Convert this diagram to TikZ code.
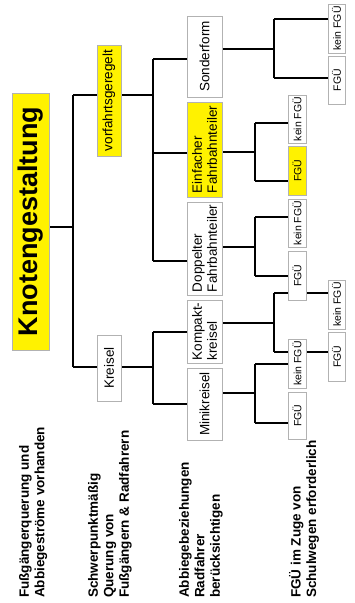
\documentclass[tikz,border=0pt]{standalone}
\usepackage{fontspec}
\setmainfont{Liberation Sans}
\usetikzlibrary{backgrounds}

\tikzset{
	box/.style={draw=gray!60, fill=white, line width=0.8pt, rotate=90, inner sep=0pt,
		align=left, font=\fontsize{13.5}{15}\selectfont},
	hilite/.style={fill=yellow},
	leaf/.style={box, font=\fontsize{10.5}{12}\selectfont},
	note/.style={rotate=90, anchor=north west, inner sep=0pt, align=left,
		font=\fontsize{13.5}{15.5}\selectfont\bfseries},
	link/.style={line width=1.5pt}
}

\begin{document}
\begin{tikzpicture}[x=1pt, y=-1pt]

	\useasboundingbox (0,0) rectangle (354,603);

	% Root
	\node[box, hilite, minimum width=257, minimum height=37,
		font=\fontsize{27}{30}\selectfont\bfseries] (root) at (30.5,221.5) {Knotengestaltung};

	% Level 1
	\node[box, hilite, minimum width=111, minimum height=24] (vorfahrt) at (109,100.5) {vorfahrtsgeregelt};
	\node[box, minimum width=66, minimum height=24] (kreisel) at (109,368) {Kreisel};

	% Level 2
	\node[box, minimum width=81, minimum height=35] (sonder) at (204.5,56.5) {Sonderform};
	\node[box, hilite, minimum width=95, minimum height=35] (einfach) at (204.5,149.5) {Einfacher\\Fahrbahnteiler};
	\node[box, minimum width=93, minimum height=35] (doppelt) at (204.5,248.5) {Doppelter\\Fahrbahnteiler};
	\node[box, minimum width=63, minimum height=35] (kompakt) at (204.5,331.5) {Kompakt-\\kreisel};
	\node[box, minimum width=72, minimum height=35] (mini) at (204.5,404) {Minikreisel};

	% Level 3
	\node[leaf, minimum width=48, minimum height=18] (einkein) at (297,119) {kein FGÜ};
	\node[leaf, hilite, minimum width=49, minimum height=18] (einfgu) at (297,170.5) {FGÜ};
	\node[leaf, minimum width=48, minimum height=18] (dopkein) at (297,223) {kein FGÜ};
	\node[leaf, minimum width=49, minimum height=18] (dopfgu) at (297,275.5) {FGÜ};
	\node[leaf, minimum width=49, minimum height=18] (minikein) at (297,363.5) {kein FGÜ};
	\node[leaf, minimum width=47, minimum height=18] (minifgu) at (297,415.5) {FGÜ};

	% Level 4
	\node[leaf, minimum width=49, minimum height=17] (sonkein) at (336.5,28.5) {kein FGÜ};
	\node[leaf, minimum width=48, minimum height=17] (sonfgu) at (336.5,80) {FGÜ};
	\node[leaf, minimum width=49, minimum height=17] (komkein) at (336.5,304.5) {kein FGÜ};
	\node[leaf, minimum width=49, minimum height=17] (komfgu) at (336.5,356.5) {FGÜ};

	% Criteria
	\node[note] (crit1) at (19,598) {Fußgängerquerung und\\Abbiegeströme vorhanden};
	\node[note] (crit2) at (88,598) {Schwerpunktmäßig\\Querung von\\Fußgängern \& Radfahrern};
	\node[note] (crit3) at (179,598) {Abbiegebeziehungen\\Radfahrer\\berücksichtigen};
	\node[note] (crit4) at (289,598) {FGÜ im Zuge von\\Schulwegen erforderlich};

	% Joints
	\coordinate (r0) at (73,227);  \coordinate (r1) at (73,95);  \coordinate (r2) at (73,367);
	\coordinate (v0) at (153,95);  \coordinate (v1) at (153,59); \coordinate (v2) at (153,153); \coordinate (v3) at (153,261);
	\coordinate (k0) at (153,367); \coordinate (k1) at (153,332); \coordinate (k2) at (153,404);
	\coordinate (s0) at (274,49);  \coordinate (s1) at (274,19);  \coordinate (s2) at (274,78);
	\coordinate (e0) at (255,152); \coordinate (e1) at (255,123); \coordinate (e2) at (255,181);
	\coordinate (d0) at (255,247); \coordinate (d1) at (255,217); \coordinate (d2) at (255,276);
	\coordinate (c0) at (274,323); \coordinate (c1) at (274,293); \coordinate (c2) at (274,352);
	\coordinate (m0) at (255,393); \coordinate (m1) at (255,364); \coordinate (m2) at (255,423);

	\begin{scope}[on background layer]
		% Root
		\draw[link] (root.south |- r0) -- (r0);
		\draw[link] (r1) -- (r2);
		\draw[link] (r1) -- (r1 -| vorfahrt.north);
		\draw[link] (r2) -- (r2 -| kreisel.north);

		% vorfahrtsgeregelt
		\draw[link] (vorfahrt.south |- v0) -- (v0);
		\draw[link] (v1) -- (v3);
		\draw[link] (v1) -- (v1 -| sonder.north);
		\draw[link] (v2) -- (v2 -| einfach.north);
		\draw[link] (v3) -- (v3 -| doppelt.north);

		% Kreisel
		\draw[link] (kreisel.south |- k0) -- (k0);
		\draw[link] (k1) -- (k2);
		\draw[link] (k1) -- (k1 -| kompakt.north);
		\draw[link] (k2) -- (k2 -| mini.north);

		% Sonderform
		\draw[link] (sonder.south |- s0) -- (s0);
		\draw[link] (s1) -- (s2);
		\draw[link] (s1) -- (s1 -| sonkein.north);
		\draw[link] (s2) -- (s2 -| sonfgu.north);

		% Einfacher Fahrbahnteiler
		\draw[link] (einfach.south |- e0) -- (e0);
		\draw[link] (e1) -- (e2);
		\draw[link] (e1) -- (e1 -| einkein.north);
		\draw[link] (e2) -- (e2 -| einfgu.north);

		% Doppelter Fahrbahnteiler
		\draw[link] (doppelt.south |- d0) -- (d0);
		\draw[link] (d1) -- (d2);
		\draw[link] (d1) -- (d1 -| dopkein.north);
		\draw[link] (d2) -- (d2 -| dopfgu.north);

		% Kompaktkreisel
		\draw[link] (kompakt.south |- c0) -- (c0);
		\draw[link] (c1) -- (c2);
		\draw[link] (c1) -- (c1 -| komkein.north);
		\draw[link] (c2) -- (c2 -| komfgu.north);

		% Minikreisel
		\draw[link] (mini.south |- m0) -- (m0);
		\draw[link] (m1) -- (m2);
		\draw[link] (m1) -- (m1 -| minikein.north);
		\draw[link] (m2) -- (m2 -| minifgu.north);
	\end{scope}

\end{tikzpicture}
\end{document}
